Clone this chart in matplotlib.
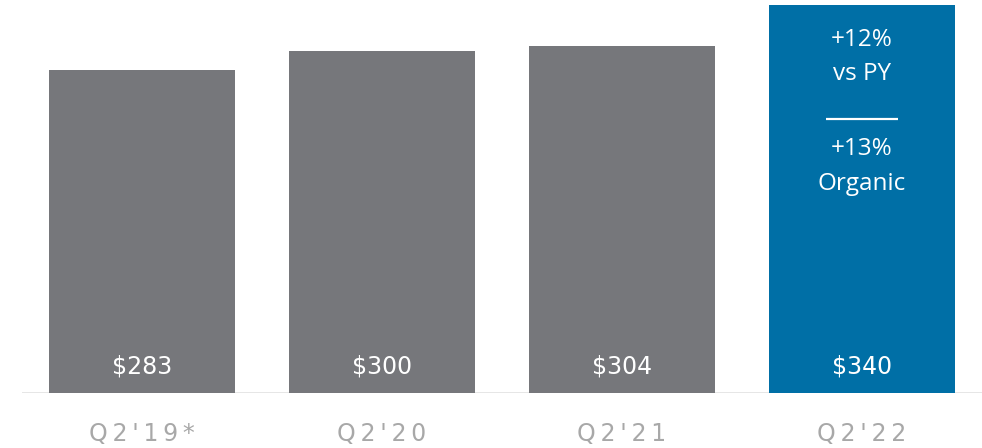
import matplotlib
matplotlib.use("Agg")
import matplotlib.pyplot as plt

# Data
quarters = ["Q2'19*", "Q2'20", "Q2'21", "Q2'22"]
values = [283, 300, 304, 340]
value_labels = ["$283", "$300", "$304", "$340"]
growth_lines = ["+12%", "vs PY", "+13%", "Organic"]

GRAY = "#76777b"
BLUE = "#006fa6"

plt.rcParams["font.family"] = ["Open Sans", "DejaVu Sans"]

fig = plt.figure(figsize=(9.82, 4.48), dpi=100)
ax = fig.add_axes([22 / 982, 55 / 448, 960 / 982, 393 / 448])

x = list(range(len(values)))
colors = [GRAY] * (len(values) - 1) + [BLUE]
ax.bar(x, values, width=0.775, color=colors, zorder=2)

ax.set_xlim(-0.5, len(values) - 0.5)
ax.set_ylim(0, 344.4)

# baseline
ax.axhline(0, color="#e2e2e2", lw=1.2, zorder=1)

# value labels inside bars
for xi, lab in zip(x, value_labels):
    ax.text(xi, 23.5, lab, ha="center", va="center", color="white",
            fontsize=17, family=["DejaVu Sans"])

# growth annotation in the last bar
last = x[-1]
for lab, yv in zip(growth_lines, [309.5, 279.5, 214, 183.5]):
    ax.text(last, yv, lab, ha="center", va="center", color="white", fontsize=17.5)
ax.plot([last - 0.15, last + 0.15], [240, 240], color="white", lw=1.6,
        solid_capstyle="butt", zorder=3)

# spaced category labels
ax.set_xticks(x)
ax.set_xticklabels(["\u2009".join(q) for q in quarters], color="#a8a8a8",
                   fontsize=17, family=["DejaVu Sans"])
ax.tick_params(axis="x", length=0, pad=21)
ax.set_yticks([])
for s in ax.spines.values():
    s.set_visible(False)

fig.savefig("out.png", dpi=100)
